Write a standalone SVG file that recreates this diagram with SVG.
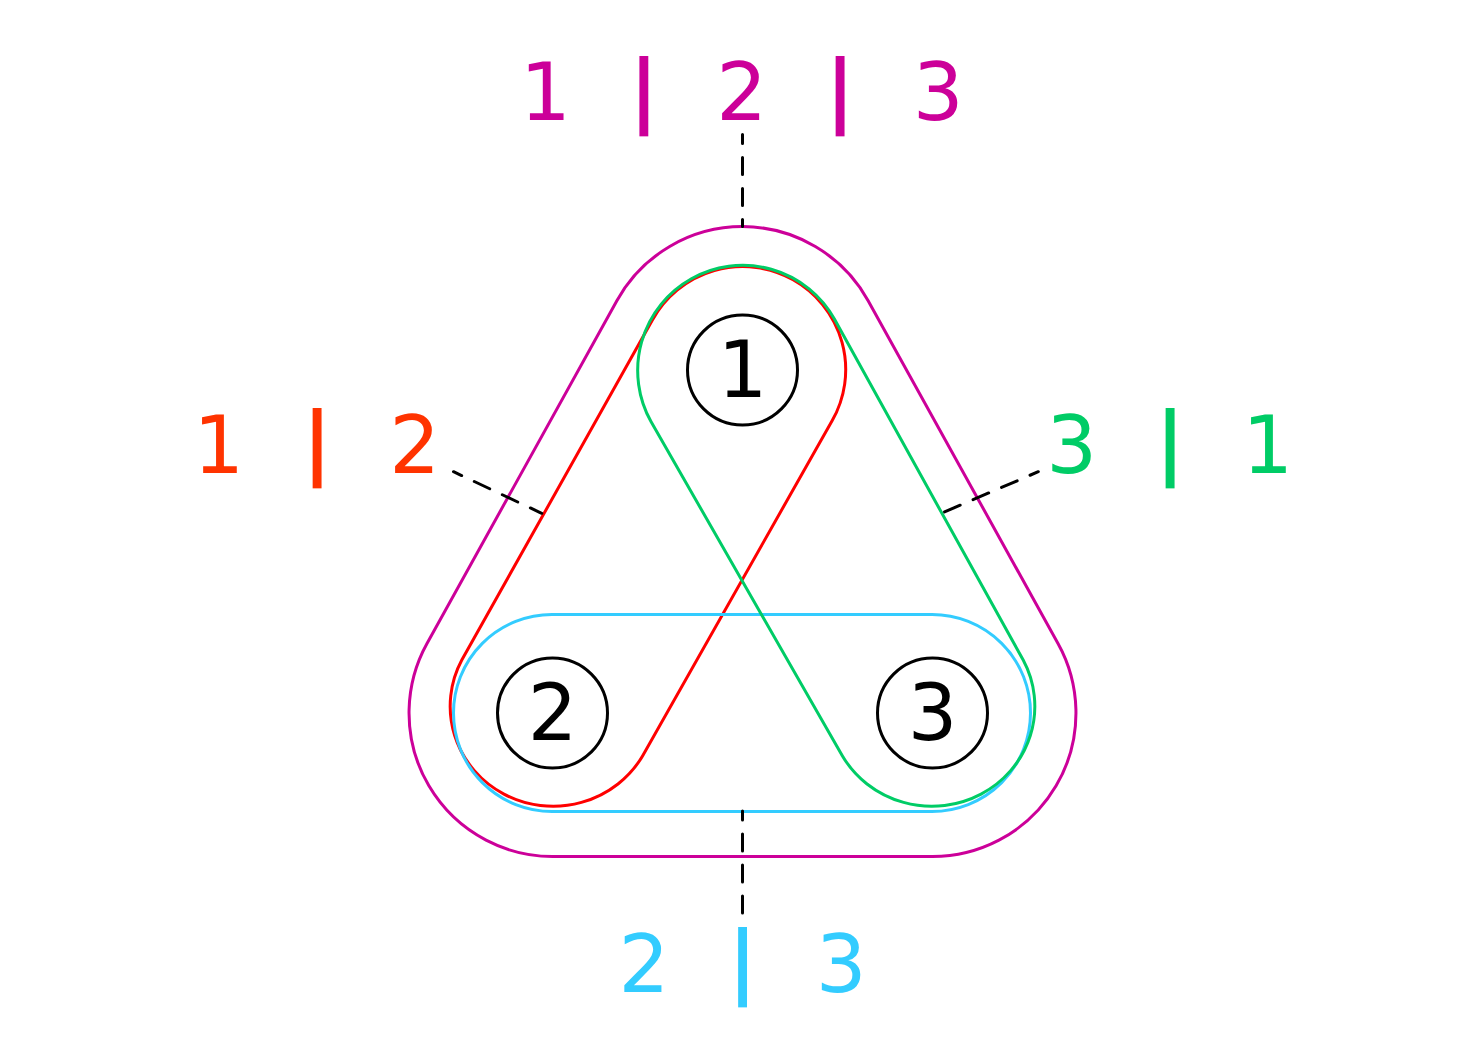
<svg xmlns="http://www.w3.org/2000/svg" width="1477" height="1063" viewBox="0 0 1477 1063">
<style>
.hull{fill:none;stroke-width:3;stroke-linejoin:round}
.node circle{fill:#fff;fill-opacity:0;stroke:#000;stroke-width:3}
.node text{font-family:"DejaVu Sans",sans-serif;font-size:78px;text-anchor:middle;fill:#000}
.lbl{font-family:"DejaVu Sans",sans-serif;font-size:80px;text-anchor:middle}
.bar{font-weight:bold}
.dash{stroke:#000;stroke-width:3;stroke-dasharray:17 14;stroke-dashoffset:8;stroke-linecap:round;fill:none}
</style>
<rect width="1477" height="1063" fill="#fff"/>
<g id="hulls">
<path id="hull-123" class="hull" stroke="#CC0099" d="M617 300.5 L427 643.5 A143.5 143.5 0 0 0 552.5 856.5 L932.5 856.5 A143.5 143.5 0 0 0 1058 643.5 L868 300.5 A143.5 143.5 0 0 0 617 300.5 Z"/>
<path id="hull-12" class="hull" stroke="#FF0000" d="M652.4 320.1 L461.8 660.1 A103 100 0 0 0 642.7 755.7 L832.1 420.8 A103 103 0 1 0 652.4 320.1 Z"/>
<path id="hull-23" class="hull" stroke="#33CCFF" d="M552 614.5 L932 614.5 A98.5 98.5 0 0 1 932 811.5 L552 811.5 A98.5 98.5 0 0 1 552 614.5 Z"/>
<path id="hull-31" class="hull" stroke="#00CC66" d="M834.4 319.1 L1023.2 660.1 A103 100 0 0 1 842.3 755.7 L651.1 421.8 A105 105 0 1 1 834.4 319.1 Z"/>
</g>
<g id="node1" class="node"><circle cx="742.5" cy="370" r="55"/><text x="742.5" y="396.5">1</text></g>
<g id="node2" class="node"><circle cx="552.5" cy="713" r="55"/><text x="552.5" y="739.5">2</text></g>
<g id="node3" class="node"><circle cx="932.5" cy="713" r="55"/><text x="932.5" y="739.5">3</text></g>
<g id="connectors">
<line class="dash" x1="742.5" y1="134.5" x2="742.5" y2="226.5"/>
<line class="dash" x1="453.5" y1="471.7" x2="541.7" y2="513.3"/>
<line class="dash" x1="1038.3" y1="471.7" x2="942.7" y2="512.7"/>
<line class="dash" x1="742.5" y1="811" x2="742.5" y2="915"/>
</g>
<g id="label-123"><text class="lbl" fill="#CC0099"><tspan x="545.5" y="120">1</tspan><tspan class="bar" x="643.8" y="116.5">|</tspan><tspan x="741.7" y="120">2</tspan><tspan class="bar" x="840" y="116.5">|</tspan><tspan x="938.3" y="120">3</tspan></text></g>
<g id="label-12"><text class="lbl" fill="#FF3300"><tspan x="218.8" y="472.7">1</tspan><tspan class="bar" x="317" y="469.2">|</tspan><tspan x="414.7" y="472.7">2</tspan></text></g>
<g id="label-31"><text class="lbl" fill="#00CC66"><tspan x="1071.7" y="472.7">3</tspan><tspan class="bar" x="1170" y="469.2">|</tspan><tspan x="1267.8" y="472.7">1</tspan></text></g>
<g id="label-23"><text class="lbl" fill="#33CCFF"><tspan x="644" y="991.7">2</tspan><tspan class="bar" x="742.7" y="988.2">|</tspan><tspan x="841.2" y="991.7">3</tspan></text></g>
</svg>
